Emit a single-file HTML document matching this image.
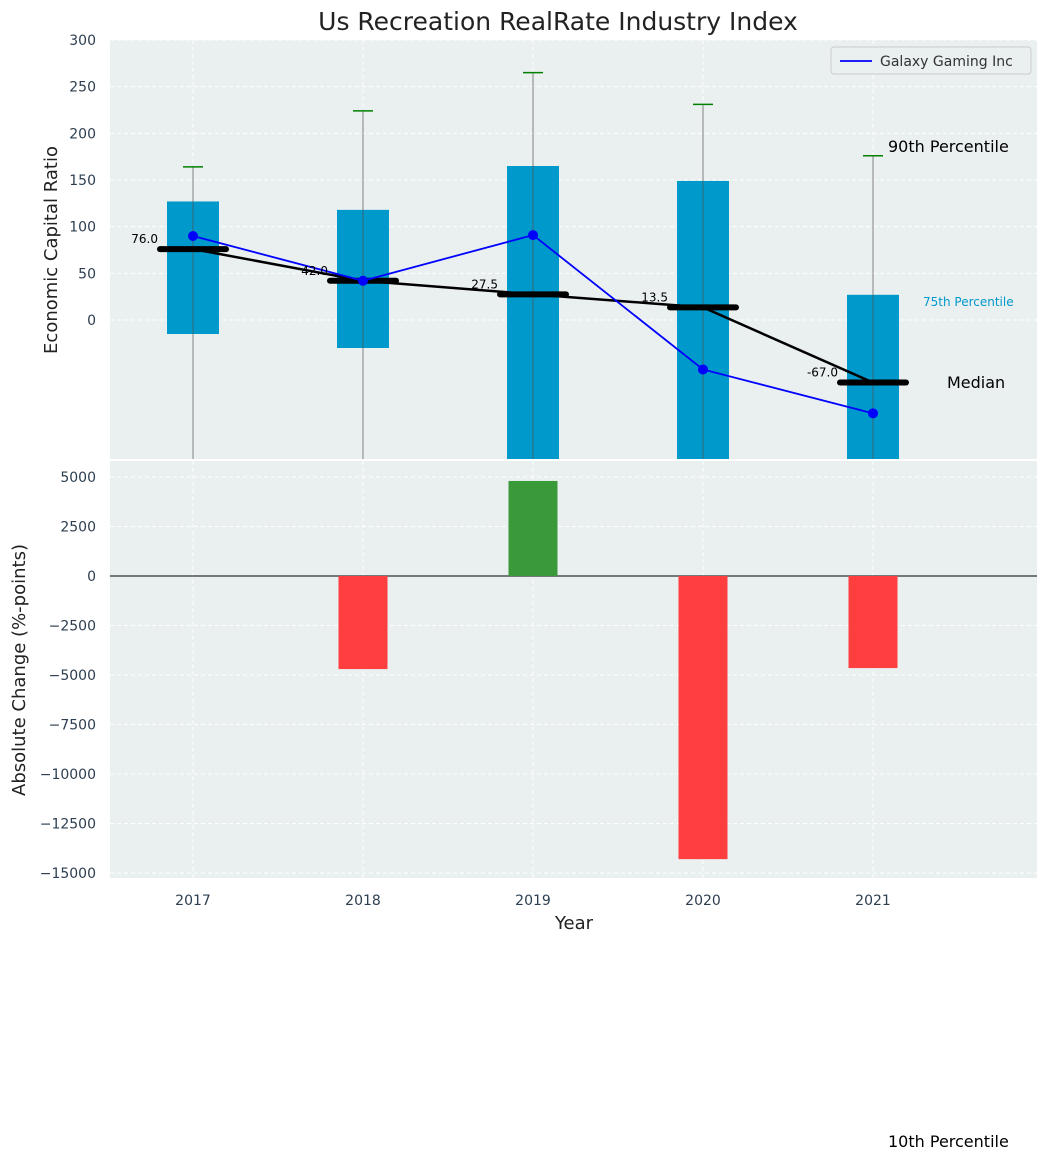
<!DOCTYPE html>
<html><head><meta charset="utf-8"><style>
body{margin:0;background:#fff;font-family:"Liberation Sans","DejaVu Sans",sans-serif}
svg text{font-family:"DejaVu Sans","Liberation Sans",sans-serif}
</style></head><body>
<svg id="c" width="1048" height="1161"></svg>
<script>
const years=[2017,2018,2019,2020,2021];
const q75=[127,118,165,149,27];
const q25=[-15,-30,-160,-160,-160];
const p90=[164,224,265,231,176];
const medians=[76,42,27.5,13.5,-67];
const galaxy=[90,42,91,-53,-100];
const changes=[0,-4700,4800,-14300,-4650];
const topTicks=[0,50,100,150,200,250,300];
const botTicks=[5000,2500,0,-2500,-5000,-7500,-10000,-12500,-15000];

const NS="http://www.w3.org/2000/svg";
const svg=document.getElementById('c');
function el(t,a,p){const e=document.createElementNS(NS,t);for(const k in a)e.setAttribute(k,a[k]);(p||svg).appendChild(e);return e;}
const L=110,R=1037;
const x=v=>193+(v-2017)*170;
const T0=40,T1=459, yT=v=>320-v*(280/300);
const B0=461,B1=878, yB=v=>576-v*(99/5000);

// panels
let r=el('rect',{x:L,y:T0,width:R-L,height:T1-T0,fill:'#eaeff0'});

r=el('rect',{x:L,y:B0,width:R-L,height:B1-B0,fill:'#eaeff0'});


const clipT=el('clipPath',{id:'ct'});el('rect',{x:L,y:T0,width:R-L,height:T1-T0},clipT);
const clipB=el('clipPath',{id:'cb'});el('rect',{x:L,y:B0,width:R-L,height:B1-B0},clipB);
const gT=el('g',{'clip-path':'url(#ct)'});const gB=el('g',{'clip-path':'url(#cb)'});

// grids
years.forEach(v=>{el('line',{x1:x(v),x2:x(v),y1:T0,y2:T1,stroke:'#fff','stroke-dasharray':'4,3'},gT);el('line',{x1:x(v),x2:x(v),y1:B0,y2:B1,stroke:'#fff','stroke-dasharray':'4,3'},gB);});
topTicks.forEach(v=>{el('line',{x1:L,x2:R,y1:yT(v),y2:yT(v),stroke:'#fff','stroke-dasharray':'4,3'},gT);
 const t=el('text',{x:L-14,y:yT(v)+5,'text-anchor':'end','font-size':14,fill:'#2d3e50'});t.textContent=v;
 });
botTicks.forEach(v=>{el('line',{x1:L,x2:R,y1:yB(v),y2:yB(v),stroke:'#fff','stroke-dasharray':'4,3'},gB);
 const t=el('text',{x:L-14,y:yB(v)+5,'text-anchor':'end','font-size':14,fill:'#2d3e50'});t.textContent=(v<0?'\u2212'+(-v):v);
 });

// boxes
years.forEach((v,i)=>{
 const b=el('rect',{x:x(v)-26,y:yT(q75[i]),width:52,height:yT(q25[i])-yT(q75[i]),fill:'#0099cc'},gT);
 
 const w=el('line',{x1:x(v),x2:x(v),y1:yT(p90[i]),y2:T1,stroke:'#555','stroke-opacity':0.6,'stroke-width':1.2},gT);
 
 const c=el('line',{x1:x(v)-10,x2:x(v)+10,y1:yT(p90[i]),y2:yT(p90[i]),stroke:'green','stroke-width':1.5},gT);
 
});
// median connecting line
let pts=years.map((v,i)=>x(v)+','+yT(medians[i])).join(' ');
let pl=el('polyline',{points:pts,fill:'none',stroke:'#000','stroke-width':2.5},gT);

years.forEach((v,i)=>{
 const m=el('line',{x1:x(v)-33,x2:x(v)+33,y1:yT(medians[i]),y2:yT(medians[i]),stroke:'#000','stroke-width':6,'stroke-linecap':'round'},gT);
 
 const t=el('text',{x:x(v)-35,y:yT(medians[i])-6,'text-anchor':'end','font-size':12,fill:'#000'});t.textContent=medians[i].toFixed(1);
 
});
// galaxy line
pts=years.map((v,i)=>x(v)+','+yT(galaxy[i])).join(' ');
pl=el('polyline',{points:pts,fill:'none',stroke:'blue','stroke-width':1.8},gT);

years.forEach((v,i)=>{const p=el('circle',{cx:x(v),cy:yT(galaxy[i]),r:5,fill:'blue'},gT);
 });

// change bars
el('line',{x1:L,x2:R,y1:yB(0),y2:yB(0),stroke:'#000','stroke-width':1},gB);
years.forEach((v,i)=>{if(!changes[i])return;
 const y0=yB(Math.max(0,changes[i])),y1=yB(Math.min(0,changes[i]));
 const b=el('rect',{x:x(v)-24.5,y:y0,width:49,height:y1-y0,fill:changes[i]>0?'#3a9a3a':'#ff3f3f'},gB);
 });

// x ticks
years.forEach(v=>{const t=el('text',{x:x(v),y:905,'text-anchor':'middle','font-size':14,fill:'#2d3e50'});t.textContent=v;
 });

function txt(s,a,name){const t=el('text',a);t.textContent=s;return t;}
txt('Us Recreation RealRate Industry Index',{x:558,y:30,'text-anchor':'middle','font-size':25,fill:'#222'},'chart-title');
txt('Economic Capital Ratio',{x:57,y:250,'text-anchor':'middle','font-size':18,fill:'#222',transform:'rotate(-90 57 250)'},'y-axis-title');
txt('Absolute Change (%-points)',{x:25,y:670,'text-anchor':'middle','font-size':18,fill:'#222',transform:'rotate(-90 25 670)'},'y2-axis-title');
txt('Year',{x:574,y:929,'text-anchor':'middle','font-size':18,fill:'#222'},'x-axis-title');
txt('90th Percentile',{x:888,y:152,'font-size':16,fill:'#000'},'p90-annotation');
txt('75th Percentile',{x:923,y:306,'font-size':12,fill:'#0099cc'},'p75-annotation');
txt('Median',{x:947,y:388,'font-size':16,fill:'#000'},'median-annotation');
txt('10th Percentile',{x:888,y:1147,'font-size':16,fill:'#000'},'p10-annotation');

// legend
const lg=el('g',{});
el('rect',{x:831,y:47,width:200,height:27,rx:3,fill:'#eaeff0',stroke:'#ccc'},lg);
el('line',{x1:840,x2:872,y1:61,y2:61,stroke:'blue','stroke-width':1.8},lg);
const lt=el('text',{x:880,y:66,'font-size':14,fill:'#333'},lg);lt.textContent='Galaxy Gaming Inc';
</script>
</body></html>
